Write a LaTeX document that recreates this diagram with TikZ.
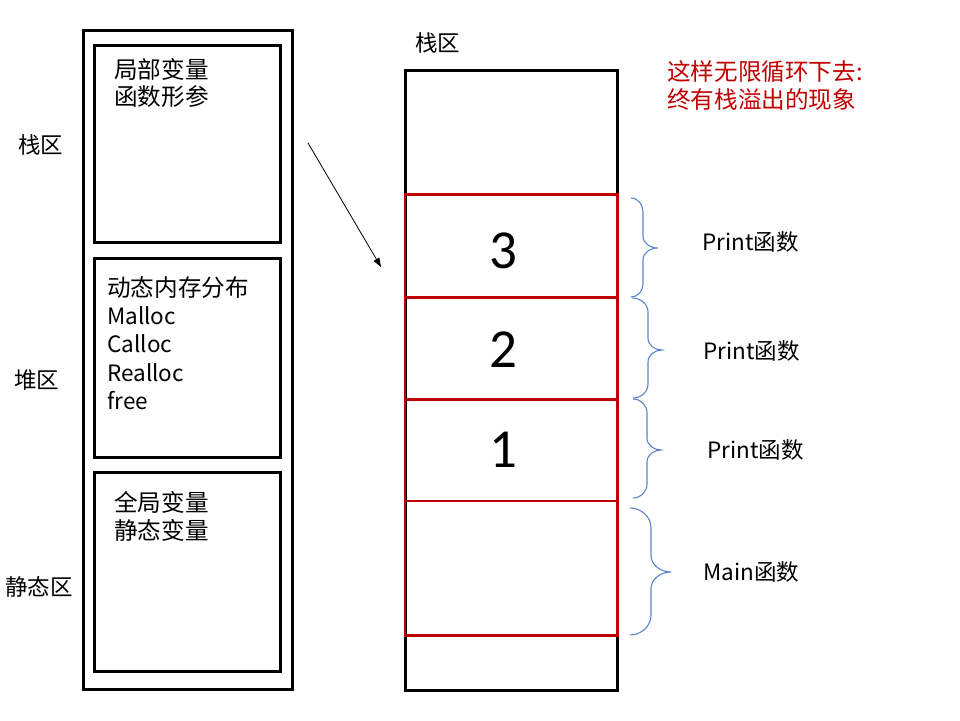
\documentclass[tikz,border=0pt]{standalone}
\usepackage{fontspec}
\setmainfont{Noto Sans CJK SC}
\newfontfamily\digitfont{Carlito}
\usetikzlibrary{arrows.meta}
\definecolor{stackred}{HTML}{C00000}
\definecolor{braceblue}{HTML}{5B84CC}
\begin{document}
\begin{tikzpicture}[x=1pt,y=-1pt,
  box/.style={draw=black,line width=3pt},
  redbox/.style={draw=stackred,line width=2.6pt},
  txt/.style={anchor=base west,inner sep=0pt,font=\fontsize{22.5}{27}\selectfont},
  cjktxt/.style={anchor=base west,inner sep=0pt,font=\fontsize{23.6}{27}\selectfont},
  redtxt/.style={cjktxt,text=stackred},
  num/.style={anchor=base,inner sep=0pt,font=\digitfont\fontsize{55}{60}\selectfont},
  bracepath/.style={draw=braceblue,line width=1.1pt}]
\useasboundingbox (0,0) rectangle (960,720);
% left memory layout
\draw[box] (83.5,30.5) rectangle (292,689.5);
\draw[box] (94.5,45) rectangle (280.5,242.5);
\draw[box] (94.5,258) rectangle (280.5,457);
\draw[box] (94.5,472.5) rectangle (280.5,671);
\node[cjktxt] (t1a) at (114,78) {局部变量};
\node[cjktxt] (t1b) at (114,105.5) {函数形参};
\node[cjktxt] (t2a) at (107,296) {动态内存分布};
\node[txt] (t2b) at (107,324) {Malloc};
\node[txt] (t2c) at (107,352.5) {Calloc};
\node[txt] (t2d) at (107,381) {Realloc};
\node[txt] (t2e) at (107,409.5) {free};
\node[cjktxt] (t3a) at (114,511) {全局变量};
\node[cjktxt] (t3b) at (114,539) {静态变量};
\node[txt] (lz) at (18,153.5) {栈区};
\node[txt] (ld) at (14,388.5) {堆区};
\node[txt] (ls) at (5,595.5) {静态区};
% arrow
\coordinate (as) at (308,143);
\coordinate (ae) at (381,267);
\draw[line width=0.8pt,-{Triangle[length=9pt,width=6.5pt]}] (as) -- (ae);
% stack
\node[txt] (stk) at (415,51.5) {栈区};
\draw[box] (405,70) rectangle (617.5,690);
\draw[redbox] (405,194.5) rectangle (617.5,297.5);
\draw[redbox] (405,297.5) rectangle (617.5,399.5);
\draw[redbox] (405,399.5) rectangle (617.5,501);
\draw[redbox] (405,501) rectangle (617.5,635.5);
\node[num] (n3) at (503,268) {3};
\node[num] (n2) at (503,367) {2};
\node[num] (n1) at (503,467) {1};
% red note
\node[redtxt] (r1) at (667,80) {这样无限循环下去:};
\node[redtxt] (r2) at (667,108) {终有栈溢出的现象};
% braces
\draw[bracepath] (631,198) to[out=0,in=90] (643,212) -- (643,236) to[out=-90,in=180] (658,248)
  to[out=180,in=90] (643,260) -- (643,284) to[out=-90,in=0] (631,297);
\draw[bracepath] (632,298) to[out=0,in=90] (648,312) -- (648,338) to[out=-90,in=180] (662,350)
  to[out=180,in=90] (648,362) -- (648,384) to[out=-90,in=0] (633,398);
\draw[bracepath] (633,399) to[out=0,in=90] (647,413) -- (647,438) to[out=-90,in=180] (661,450)
  to[out=180,in=90] (647,462) -- (647,484) to[out=-90,in=0] (633,498);
\draw[bracepath] (630,508) to[out=0,in=90] (651,528) -- (651,555) to[out=-90,in=180] (671,572)
  to[out=180,in=90] (651,589) -- (651,615) to[out=-90,in=0] (630,635);
\node[txt] (p1) at (702,250.5) {Print函数};
\node[txt] (p2) at (703,359.5) {Print函数};
\node[txt] (p3) at (707,458.5) {Print函数};
\node[txt] (m1) at (703,580.5) {Main函数};
\end{tikzpicture}
\end{document}
